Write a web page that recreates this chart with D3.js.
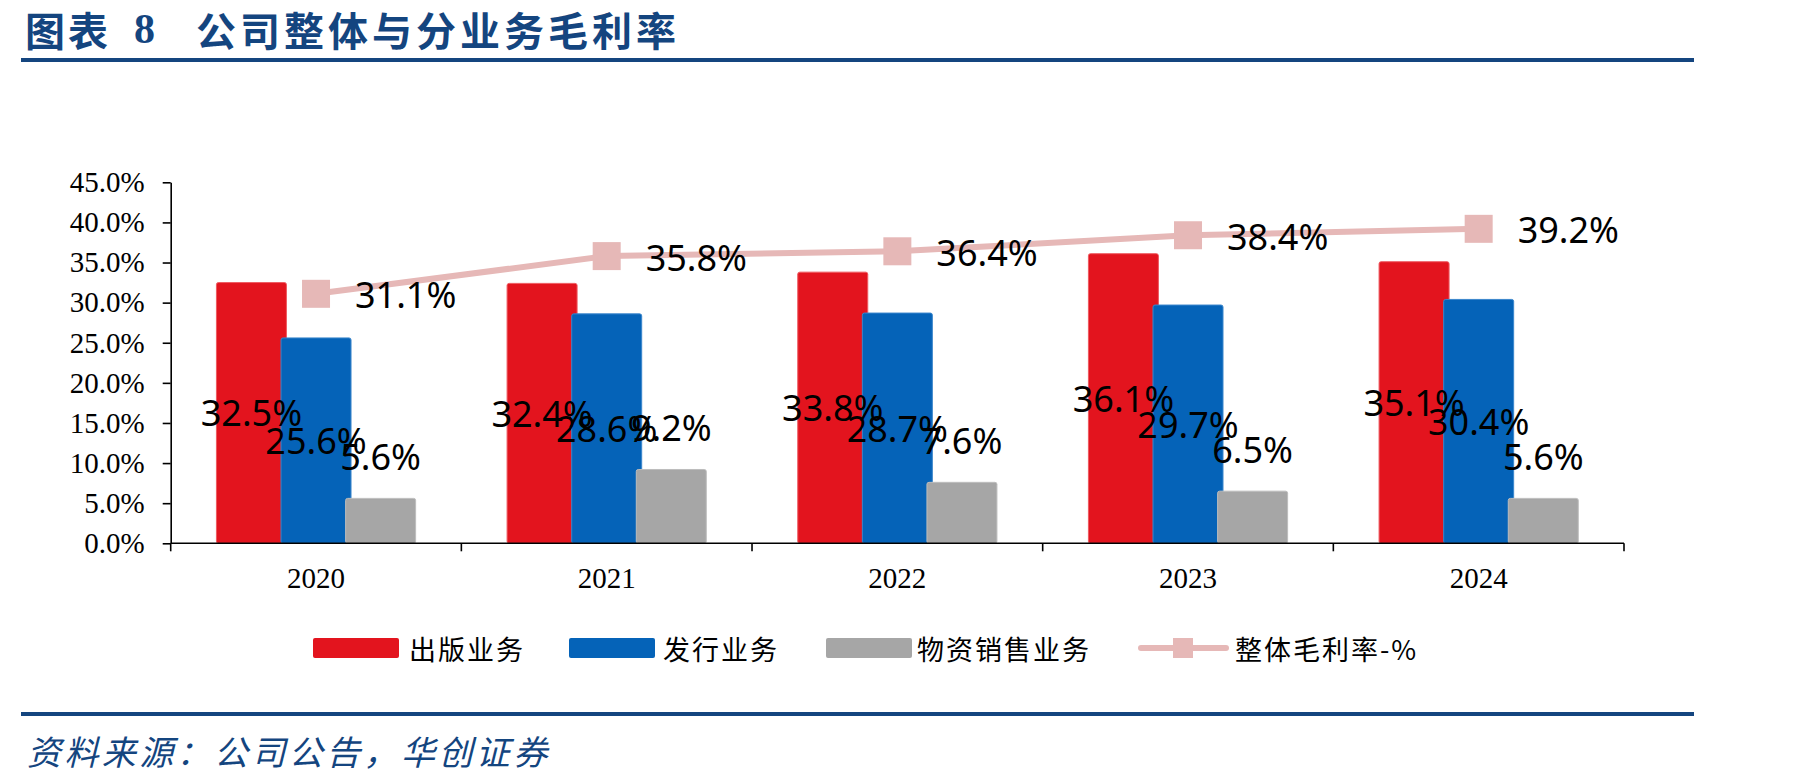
<!DOCTYPE html>
<html><head><meta charset="utf-8">
<script src="https://cdn.jsdelivr.net/npm/d3@7/dist/d3.min.js"></script>
<style>
html,body{margin:0;padding:0;background:#fff;}
svg{display:block;}
</style></head>
<body>
<svg id="chart" width="1801" height="783"></svg>
<script>
const years = ["2020", "2021", "2022", "2023", "2024"];
const seriesNames = ["出版业务", "发行业务", "物资销售业务"];
const publishing = [32.5, 32.4, 33.8, 36.1, 35.1];
const distribution = [25.6, 28.6, 28.7, 29.7, 30.4];
const materials = [5.6, 9.2, 7.6, 6.5, 5.6];
const overall = [31.1, 35.8, 36.4, 38.4, 39.2];
const lineName = "整体毛利率-%";
const yTicks = [0, 5, 10, 15, 20, 25, 30, 35, 40, 45];

const barColors = ["#E3141E", "#0563B8", "#A6A6A6"];
const barEdges = ["#EE5A60", "#3A86CC", "#BDBDBD"];
const lineColor = "#E6B8B7";
const navy = "#14457F";

const svg = d3.select("#chart");

// header / footer
svg.append("rect").attr("x", 21).attr("y", 58).attr("width", 1673).attr("height", 4).attr("fill", navy);
svg.append("rect").attr("x", 21).attr("y", 712).attr("width", 1673).attr("height", 4).attr("fill", navy);
const title = svg.append("g").attr("fill", navy).attr("font-weight", "bold");
title.append("text").attr("x", 25).attr("y", 29).attr("dominant-baseline", "central")
  .attr("font-family", "'Noto Sans CJK SC'").attr("font-size", 40).attr("letter-spacing", 3).text("图表");
title.append("text").attr("x", 134).attr("y", 29).attr("dominant-baseline", "central")
  .attr("font-family", "'Liberation Serif'").attr("font-size", 42).text("8");
title.append("text").attr("x", 196).attr("y", 29).attr("dominant-baseline", "central")
  .attr("font-family", "'Noto Sans CJK SC'").attr("font-size", 40).attr("letter-spacing", 4).text("公司整体与分业务毛利率");
svg.append("text").attr("x", 27).attr("y", 750).attr("dominant-baseline", "central")
  .attr("font-family", "'Noto Sans CJK SC'").attr("font-size", 34).attr("font-style", "italic")
  .attr("letter-spacing", 3.4).attr("fill", navy).text("资料来源：公司公告，华创证券");

// scales
const x = d3.scaleBand().domain(years).range([170.7, 1624]).padding(0);
const y = d3.scaleLinear().domain([0, 45]).range([543.3, 182.3]);
const barW = 70, stride = 64.6;
const barX = (cat, i) => x(cat) + x.bandwidth() / 2 - (barW + 2 * stride) / 2 + i * stride;

// bars
const seriesVals = [publishing, distribution, materials];
seriesVals.forEach((vals, i) => {
  svg.append("g").selectAll("rect").data(years).join("rect")
    .attr("x", (d) => barX(d, i))
    .attr("y", (d, j) => y(vals[j]))
    .attr("width", barW)
    .attr("height", (d, j) => y(0) - y(vals[j]))
    .attr("rx", 2)
    .attr("fill", barColors[i])
    .attr("stroke", barEdges[i])
    .attr("stroke-width", 1);
});

// axes
const yAxis = d3.axisLeft(y).tickValues(yTicks).tickSize(8).tickSizeOuter(0).tickPadding(18)
  .tickFormat((d) => d.toFixed(1) + "%");
const yg = svg.append("g").attr("transform", "translate(170.7,0)").call(yAxis);
yg.select(".domain").attr("stroke", "#000").attr("stroke-width", 1.6);
yg.selectAll(".tick line").attr("stroke", "#000").attr("stroke-width", 1.6);
yg.selectAll("text").attr("font-family", "'Liberation Serif'").attr("font-size", 29).attr("fill", "#000");

const xg = svg.append("g");
xg.append("line").attr("x1", 170.7).attr("x2", 1624).attr("y1", y(0)).attr("y2", y(0))
  .attr("stroke", "#000").attr("stroke-width", 1.6);
const bounds = years.map((d) => x(d)).concat([x(years[years.length - 1]) + x.bandwidth()]);
xg.selectAll("line.tk").data(bounds).join("line").attr("class", "tk")
  .attr("x1", (d) => d).attr("x2", (d) => d).attr("y1", y(0)).attr("y2", y(0) + 8)
  .attr("stroke", "#000").attr("stroke-width", 1.6);
xg.selectAll("text").data(years).join("text")
  .attr("x", (d) => x(d) + x.bandwidth() / 2).attr("y", 578)
  .attr("text-anchor", "middle").attr("dominant-baseline", "central")
  .attr("font-family", "'Liberation Serif'").attr("font-size", 29).attr("fill", "#000").text((d) => d);

// line
const cx = (d) => x(d) + x.bandwidth() / 2;
const line = d3.line().x((d, i) => cx(years[i])).y((d) => y(d));
svg.append("path").datum(overall).attr("d", line).attr("fill", "none")
  .attr("stroke", lineColor).attr("stroke-width", 6);
svg.append("g").selectAll("rect").data(overall).join("rect")
  .attr("x", (d, i) => cx(years[i]) - 14).attr("y", (d) => y(d) - 14)
  .attr("width", 28).attr("height", 28).attr("fill", lineColor);

// data labels
const lab = svg.append("g").attr("font-family", "'Noto Sans'").attr("font-size", 36).attr("fill", "#000");
const fmt = (v) => v.toFixed(1) + "%";
[publishing, distribution].forEach((vals, i) => {
  lab.append("g").selectAll("text").data(years).join("text")
    .attr("x", (d) => barX(d, i) + barW / 2)
    .attr("y", (d, j) => (y(vals[j]) + y(0)) / 2)
    .attr("text-anchor", "middle").attr("dominant-baseline", "central")
    .text((d, j) => fmt(vals[j]));
});
lab.append("g").selectAll("text").data(years).join("text")
  .attr("x", (d) => barX(d, 2) + barW / 2)
  .attr("y", (d, j) => y(materials[j]) - 42)
  .attr("text-anchor", "middle").attr("dominant-baseline", "central")
  .text((d, j) => fmt(materials[j]));
lab.append("g").selectAll("text").data(overall).join("text")
  .attr("x", (d, i) => cx(years[i]) + 39)
  .attr("y", (d) => y(d) + 1)
  .attr("dominant-baseline", "central")
  .text((d) => fmt(d));

// legend
const leg = svg.append("g");
const legItems = [
  { name: seriesNames[0], color: barColors[0], sx: 313, tx: 409 },
  { name: seriesNames[1], color: barColors[1], sx: 569, tx: 663 },
  { name: seriesNames[2], color: barColors[2], sx: 826, tx: 917 }
];
legItems.forEach((it) => {
  leg.append("rect").attr("x", it.sx).attr("y", 638).attr("width", 86).attr("height", 20).attr("rx", 2).attr("fill", it.color);
  leg.append("text").attr("x", it.tx).attr("y", 648).attr("dominant-baseline", "central")
    .attr("font-family", "'Noto Sans CJK SC'").attr("font-size", 27).attr("letter-spacing", 2).attr("fill", "#000").text(it.name);
});
leg.append("line").attr("x1", 1141).attr("x2", 1226).attr("y1", 648).attr("y2", 648)
  .attr("stroke", lineColor).attr("stroke-width", 6).attr("stroke-linecap", "round");
leg.append("rect").attr("x", 1173).attr("y", 638).attr("width", 20).attr("height", 20).attr("fill", lineColor);
leg.append("text").attr("x", 1235).attr("y", 648).attr("dominant-baseline", "central")
  .attr("font-family", "'Noto Sans CJK SC'").attr("font-size", 27).attr("letter-spacing", 2).attr("fill", "#000").text(lineName);
</script>
</body></html>
